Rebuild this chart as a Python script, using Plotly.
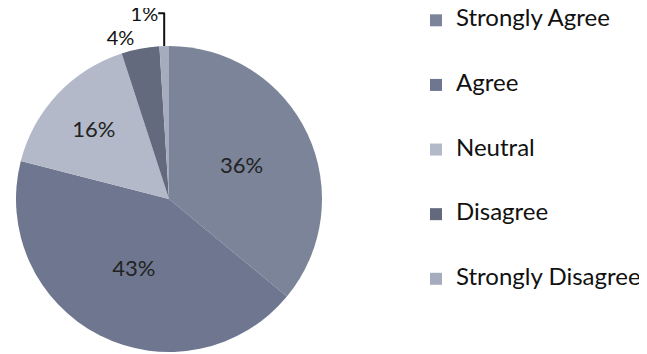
import plotly.graph_objects as go

categories = ["Strongly Agree", "Agree", "Neutral", "Disagree", "Strongly Disagree"]
values = [36, 43, 16, 4, 1]
colors = ["#7c8499", "#6f7790", "#b3b9c9", "#636a7e", "#a5acbd"]
text_positions = ["inside", "inside", "inside", "outside", "outside"]

# legend entries padded with blank lines so the entries are spaced like the original
legend_labels = [" <br><span style='font-size:24px'>%s</span><br> " % c for c in categories]

# the page body adds an 8px margin, so the figure is sized/positioned to compensate
OFF = 8
W, H = 647 - OFF, 354 - OFF
cx, cy, r = 169 - OFF, 199 - OFF, 153

fig = go.Figure(go.Pie(
    labels=legend_labels,
    values=values,
    sort=False,
    direction="clockwise",
    rotation=0,
    marker=dict(colors=colors, line=dict(width=0)),
    texttemplate="%{value}%",
    textposition=text_positions,
    insidetextorientation="horizontal",
    textfont=dict(family="Lato", size=22, color="#222222"),
    outsidetextfont=dict(family="Lato", size=20, color="#111111"),
    domain=dict(x=[(cx - r) / W, (cx + r) / W], y=[(H - cy - r) / H, (H - cy + r) / H]),
    hovertemplate="%{value}%<extra></extra>",
    showlegend=True,
))

fig.update_layout(
    width=W, height=H,
    margin=dict(l=0, r=0, t=0, b=0, autoexpand=False),
    paper_bgcolor="white",
    plot_bgcolor="white",
    font=dict(family="Lato", color="#111111"),
    legend=dict(
        x=(416 - OFF) / W, y=1 + (25 + OFF - 8) / H, xanchor="left", yanchor="top",
        font=dict(family="Lato", size=15.8, color="#111111"),
        bgcolor="rgba(0,0,0,0)",
        maxheight=500,
    ),
)

fig.write_html("out.html")
